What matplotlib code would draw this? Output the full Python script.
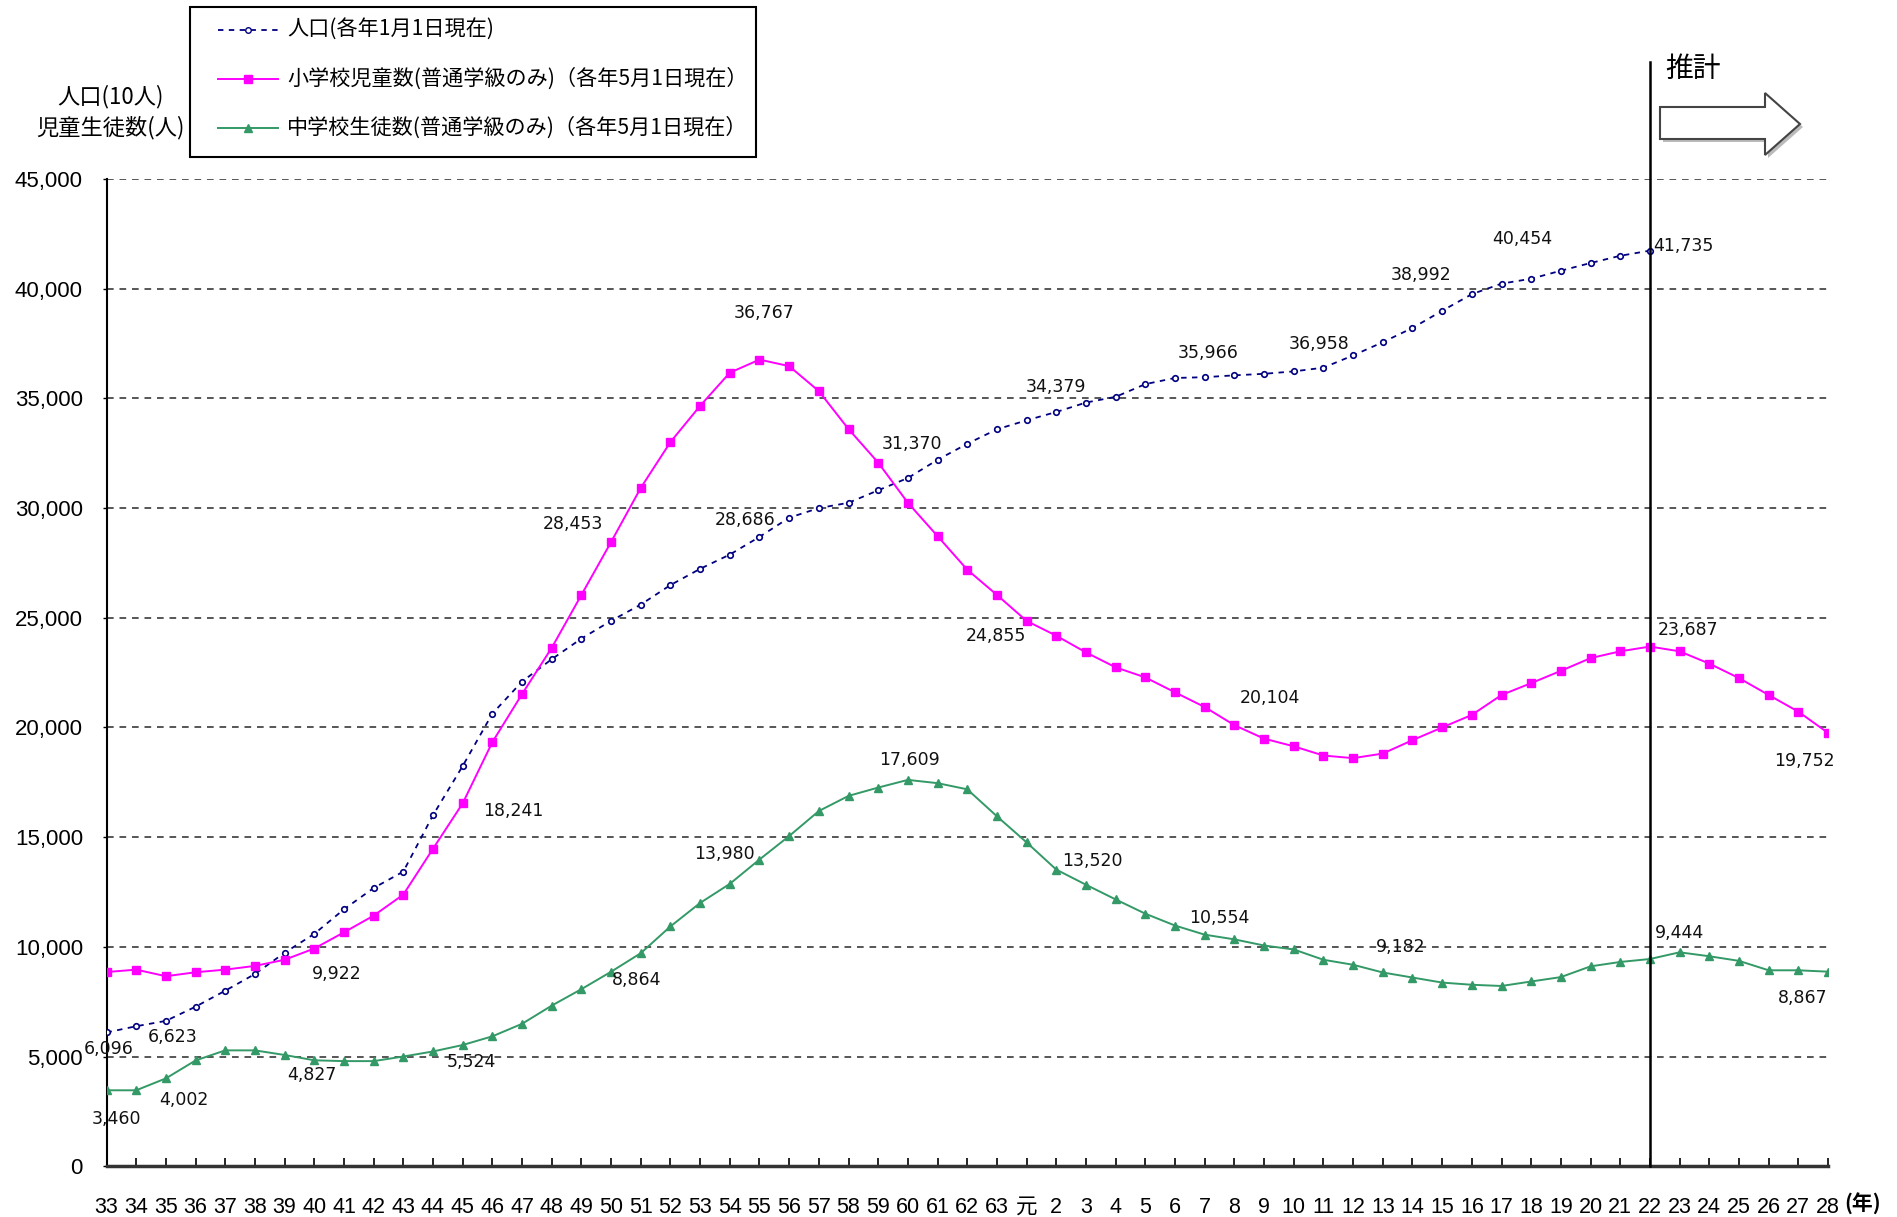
import numpy as np
import matplotlib
matplotlib.use("Agg")
import matplotlib.pyplot as plt
from matplotlib.patches import Polygon, Rectangle
from matplotlib.lines import Line2D

plt.rcParams['font.family'] = ['Liberation Sans', 'Noto Sans CJK JP', 'DejaVu Sans']

# ---------------- data ----------------
categories = [str(y) for y in range(33, 64)] + ["元"] + [str(y) for y in range(2, 29)]

population = [6096, 6380, 6623, 7270, 8000, 8760, 9730, 10590, 11710, 12680,
              13430, 16000, 18241, 20630, 22090, 23110, 24050, 24860, 25600, 26490,
              27230, 27880, 28686, 29560, 30000, 30240, 30810, 31370, 32200, 32930,
              33590, 34000, 34379, 34810, 35070, 35650, 35930, 35966, 36050, 36120,
              36230, 36400, 36958, 37560, 38210, 38992, 39750, 40230, 40454, 40820,
              41170, 41500, 41735]

elementary = [8850, 8960, 8660, 8840, 8960, 9130, 9410, 9922, 10660, 11420,
              12380, 14470, 16540, 19330, 21520, 23630, 26040, 28453, 30920, 33010,
              34660, 36170, 36767, 36470, 35330, 33600, 32070, 30240, 28720, 27190,
              26040, 24855, 24180, 23420, 22740, 22280, 21600, 20930, 20104, 19490,
              19140, 18720, 18600, 18810, 19420, 20000, 20570, 21480, 22020, 22580,
              23160, 23470, 23687, 23470, 22910, 22250, 21480, 20720, 19752]

junior = [3460, 3460, 4002, 4820, 5280, 5280, 5070, 4827, 4790, 4790,
          5000, 5230, 5524, 5920, 6490, 7320, 8070, 8864, 9710, 10930,
          12000, 12870, 13980, 15050, 16190, 16880, 17260, 17609, 17460, 17180,
          15950, 14760, 13520, 12830, 12160, 11510, 10970, 10554, 10340, 10060,
          9880, 9410, 9182, 8830, 8600, 8370, 8270, 8215, 8420, 8620,
          9110, 9310, 9444, 9750, 9570, 9360, 8930, 8930, 8867]

series_names = ["人口(各年1月1日現在)",
                "小学校児童数(普通学級のみ)（各年5月1日現在）",
                "中学校生徒数(普通学級のみ)（各年5月1日現在）"]

yticks = list(range(0, 45001, 5000))
estimate_start = "22"

# labelled points: (category, dx in categories, dy in value units, ha)
pop_labels = [("33", 0.08, -750, "center"), ("35", 0.24, -720, "center"),
              ("45", 1.7, -2030, "center"), ("55", -0.5, 760, "center"),
              ("60", 0.15, 1550, "center"), ("2", 0.0, 1140, "center"),
              ("7", 0.1, 1090, "center"), ("12", -1.15, 540, "center"),
              ("15", -0.7, 1650, "center"), ("18", -0.3, 1790, "center"),
              ("22", 0.1, 230, "left")]
ele_labels = [("40", 0.75, -1150, "center"), ("50", -1.3, 830, "center"),
              ("55", 0.14, 2110, "center"), ("元", -1.04, -700, "center"),
              ("8", 1.2, 1240, "center"), ("22", 1.3, 740, "center"),
              ("28", -0.8, -1280, "center")]
jun_labels = [("33", 0.33, -1310, "center"), ("35", 0.6, -970, "center"),
              ("40", -0.07, -690, "center"), ("45", 0.3, -780, "center"),
              ("50", 0.86, -370, "center"), ("55", -1.17, 250, "center"),
              ("60", 0.07, 920, "center"), ("2", 1.2, 380, "center"),
              ("7", 0.5, 750, "center"), ("12", 1.6, 800, "center"),
              ("22", 1.0, 1200, "center"), ("28", -0.85, -1200, "center")]

# ---------------- figure ----------------
W, H = 1897, 1217
fig = plt.figure(figsize=(W / 100, H / 100), dpi=100)
ax = fig.add_axes([106.5 / W, 1 - 1166.2 / H, (1828 - 106.5) / W, (1166.2 - 179) / H])

x = np.arange(len(categories))
xp = np.arange(len(population))

ax.set_xlim(0, len(categories) - 1)
ax.set_ylim(0, 45000)

for v in yticks[1:]:
    ax.axhline(v, color="#3a3a3a", lw=1.2, ls=(0, (4, 3.5)), zorder=1)

c_pop, c_ele, c_jun = "#000080", "#FF00FF", "#339966"
styles = [dict(color=c_pop, lw=1.3, ls=(0, (3, 3)), marker="o", ms=4,
               mfc="white", mec=c_pop, mew=1.2),
          dict(color=c_ele, lw=1.4, ls="-", marker="s", ms=5.5, mfc=c_ele, mec=c_ele),
          dict(color=c_jun, lw=1.4, ls="-", marker="^", ms=6, mfc=c_jun, mec=c_jun)]

ax.plot(xp, population, zorder=3, **styles[0])
ax.plot(x, elementary, zorder=3, **styles[1])
ax.plot(x, junior, zorder=3, **styles[2])

# data labels
def put_labels(specs, values):
    for cat, dx, dy, ha in specs:
        i = categories.index(cat)
        ax.text(i + dx, values[i] + dy, f"{values[i]:,}", ha=ha, va="center",
                fontsize=12.5, family="DejaVu Sans", color="#111111", zorder=4)

put_labels(pop_labels, population)
put_labels(ele_labels, elementary)
put_labels(jun_labels, junior)

# estimate boundary line
ie = categories.index(estimate_start)
trans = matplotlib.transforms.blended_transform_factory(ax.transData, ax.transAxes)
ax.plot([ie, ie], [0, 1.1185], color="black", lw=1.8, transform=trans,
        clip_on=False, zorder=5)
fig.text(1693 / W, 1 - 69 / H, "推計", fontsize=20, ha="center", va="center",
         family=["Noto Sans CJK JP"])
arrow_px = [(1660, 107), (1765, 107), (1765, 93), (1800, 124), (1765, 155),
            (1765, 139), (1660, 139)]
shadow = Polygon([((px + 3) / W, 1 - (py + 3) / H) for px, py in arrow_px],
                 closed=True, transform=fig.transFigure, facecolor="#bbbbbb",
                 edgecolor="none")
fig.patches.append(shadow)
arrow = Polygon([(px / W, 1 - py / H) for px, py in arrow_px], closed=True,
                transform=fig.transFigure, facecolor="white", edgecolor="#444444", lw=1.5)
fig.patches.append(arrow)

# axes styling
for s in ["top", "right"]:
    ax.spines[s].set_visible(False)
ax.spines["left"].set_linewidth(1.5)
ax.spines["bottom"].set_linewidth(2.5)
ax.spines["bottom"].set_color("#333333")

ax.set_xticks(x)
ax.set_xticklabels(categories, fontsize=15.5)
ax.set_yticks(yticks)
ax.set_yticklabels([f"{v:,}" for v in yticks], fontsize=16)
ax.tick_params(axis="x", direction="in", length=6, width=1.2, pad=22)
ax.tick_params(axis="y", direction="out", length=3, width=1, pad=14)

fig.text(1863 / W, 1 - 1204 / H, "(年)", fontsize=15, fontweight="bold",
         ha="center", va="center", family=["Noto Sans CJK JP"])
fig.text(110 / W, 1 - 97 / H, "人口(10人)", fontsize=16, ha="center", va="center",
         family=["Noto Sans CJK JP", "DejaVu Sans"])
fig.text(110 / W, 1 - 128 / H, "児童生徒数(人)", fontsize=16, ha="center", va="center",
         family=["Noto Sans CJK JP", "DejaVu Sans"])

# legend drawn as a framed box
frame = Rectangle((190 / W, 1 - 157 / H), (756 - 190) / W, (157 - 7) / H,
                  transform=fig.transFigure, facecolor="white", edgecolor="black",
                  lw=1.5, zorder=6)
fig.patches.append(frame)
for k, (name, st) in enumerate(zip(series_names, styles)):
    yrow = 1 - (30 + 49 * k) / H
    ln = Line2D([218 / W, 278 / W], [yrow, yrow], transform=fig.transFigure,
                markevery=[], zorder=7, **st)
    fig.lines.append(ln)
    mk = Line2D([248 / W], [yrow], transform=fig.transFigure, ls="none",
                marker=st["marker"], ms=st["ms"], mfc=st["mfc"], mec=st["mec"],
                zorder=7)
    fig.lines.append(mk)
    fig.text(287 / W, yrow, name, fontsize=15.2, ha="left", va="center",
             family=["Noto Sans CJK JP"], zorder=7)

fig.savefig("out.png", dpi=100)
